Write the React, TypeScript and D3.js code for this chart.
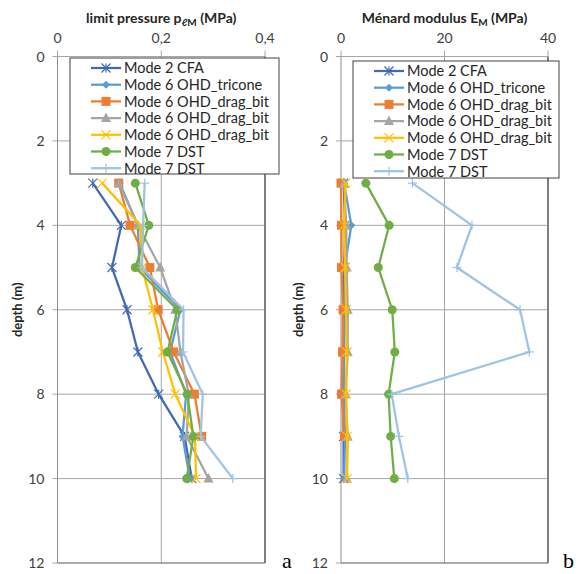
import React from "react";
import * as d3 from "d3";

const depths = [3, 4, 5, 6, 7, 8, 9, 10];
const seriesNames = [
  "Mode 2 CFA",
  "Mode 6 OHD_tricone",
  "Mode 6 OHD_drag_bit",
  "Mode 6 OHD_drag_bit",
  "Mode 6 OHD_drag_bit",
  "Mode 7 DST",
  "Mode 7 DST",
];
const seriesColors = ["#4169B8", "#5B9BD5", "#ED7D31", "#A5A5A5", "#FFC000", "#70AD47", "#9DC3E6"];
const seriesMarkers = ["star", "diamond", "square", "triangle", "x", "circle", "plus"];

// limit pressure (MPa)
const pCFA = [0.068, 0.123, 0.105, 0.134, 0.155, 0.195, 0.245, 0.259];
const pTricone = [0.12, 0.155, 0.158, 0.237, 0.217, 0.248, 0.241, 0.255];
const pDrag1 = [0.118, 0.14, 0.178, 0.194, 0.224, 0.264, 0.278];
const pDrag2 = [0.118, 0.155, 0.198, 0.227, 0.237, 0.253, 0.249, 0.291];
const pDrag3 = [0.086, 0.16, 0.163, 0.184, 0.203, 0.227, 0.265, 0.267];
const pDST1 = [0.15, 0.176, 0.15, 0.231, 0.212, 0.25, 0.262, 0.249];
const pDST2 = [0.168, 0.165, 0.163, 0.243, 0.242, 0.28, 0.276, 0.338];

// Ménard modulus (MPa)
const eCFA = [0.5, 0.8, 0.6, 0.6, 0.5, 0.4, 0.5, 0.5];
const eTricone = [0.6, 2.0, 0.7, 0.8, 0.6, 0.5, 0.8, 0.6];
const eDrag1 = [0.0, 0.1, 0.1, 0.4, 0.3, 0.1, 0.7];
const eDrag2 = [0.6, 1.0, 1.1, 1.3, 1.3, 0.9, 1.3, 1.1];
const eDrag3 = [0.9, 0.6, 0.8, 1.0, 1.1, 1.0, 1.2, 1.2];
const eDST1 = [4.8, 9.3, 7.2, 9.9, 10.4, 9.2, 9.6, 10.3];
const eDST2 = [13.8, 25.3, 22.4, 34.6, 36.4, 9.8, 11.2, 12.9];

const depthTicks = [0, 2, 4, 6, 8, 10, 12];
const pTicks = [0, 0.2, 0.4];
const eTicks = [0, 20, 40];

const FONT = "Lato, 'Open Sans', sans-serif";

function Marker({ type, x, y, color }: { type: string; x: number; y: number; color: string }) {
  const s = 4.5;
  switch (type) {
    case "star":
      return (
        <g stroke={color} strokeWidth={1.2}>
          <line x1={x - s} y1={y - s} x2={x + s} y2={y + s} />
          <line x1={x - s} y1={y + s} x2={x + s} y2={y - s} />
          <line x1={x} y1={y - s} x2={x} y2={y + s} />
        </g>
      );
    case "diamond":
      return <path d={`M${x},${y - 4}L${x + 4},${y}L${x},${y + 4}L${x - 4},${y}Z`} fill={color} />;
    case "square":
      return <rect x={x - 4.5} y={y - 4.5} width={9} height={9} fill={color} />;
    case "triangle":
      return <path d={`M${x},${y - 5.5}L${x + 5},${y + 4}L${x - 5},${y + 4}Z`} fill={color} />;
    case "x":
      return (
        <g stroke={color} strokeWidth={1.2}>
          <line x1={x - s} y1={y - s} x2={x + s} y2={y + s} />
          <line x1={x - s} y1={y + s} x2={x + s} y2={y - s} />
        </g>
      );
    case "circle":
      return <circle cx={x} cy={y} r={4.5} fill={color} />;
    case "plus":
      return (
        <g stroke={color} strokeWidth={1.2}>
          <line x1={x - s} y1={y} x2={x + s} y2={y} />
          <line x1={x} y1={y - s} x2={x} y2={y + s} />
        </g>
      );
  }
  return null;
}

type PanelProps = {
  left: number;
  right: number;
  xMax: number;
  xTicks: number[];
  fmt: (v: number) => string;
  title: React.ReactNode;
  series: number[][];
  legend: { x: number; y: number; w: number; h: number };
  letter: string;
  letterX: number;
  ylabelX: number;
};

function Panel(p: PanelProps) {
  const top = 56.5;
  const bottom = 563;
  const x = d3.scaleLinear().domain([0, p.xMax]).range([p.left, p.right]);
  const y = d3.scaleLinear().domain([0, 12]).range([top, bottom]);
  const line = d3
    .line<[number, number]>()
    .x((d) => x(d[0]))
    .y((d) => y(d[1]));
  const mid = (p.left + p.right) / 2;
  const rowH = 16.7;
  return (
    <g>
      {depthTicks.slice(1, -1).map((t) => (
        <line key={"h" + t} x1={p.left} x2={p.right} y1={y(t)} y2={y(t)} stroke="#A6A6A6" strokeWidth={1} />
      ))}
      {p.xTicks.slice(1).map((t) => (
        <line key={"v" + t} x1={x(t)} x2={x(t)} y1={top} y2={bottom} stroke="#A6A6A6" strokeWidth={1} />
      ))}
      <line x1={p.left} x2={p.left} y1={top} y2={bottom} stroke="#8C8C8C" strokeWidth={1} />
      <line x1={p.left} x2={p.right} y1={bottom} y2={bottom} stroke="#595959" strokeWidth={1} />
      <line x1={p.right} x2={p.right} y1={top} y2={bottom} stroke="#7F7F7F" strokeWidth={2} />
      <line x1={p.left} x2={p.right} y1={top} y2={top} stroke="#A6A6A6" strokeWidth={1} />
      {p.xTicks.map((t) => (
        <line key={"tt" + t} x1={x(t)} x2={x(t)} y1={top - 6} y2={top} stroke="#A6A6A6" />
      ))}
      {p.xTicks.map((t) => (
        <text key={"tl" + t} x={x(t)} y={43} textAnchor="middle" fontSize={14} fill="#404040" fontFamily={FONT}>
          {p.fmt(t)}
        </text>
      ))}
      {depthTicks.map((t) => (
        <line key={"lt" + t} x1={p.left - 5} x2={p.left} y1={y(t)} y2={y(t)} stroke="#A6A6A6" />
      ))}
      {depthTicks.map((t) => (
        <text key={"ll" + t} x={p.left - 13} y={y(t) + 5} textAnchor="end" fontSize={14} fill="#404040" fontFamily={FONT}>
          {t}
        </text>
      ))}
      <text
        transform={`translate(${p.ylabelX},${(top + bottom) / 2}) rotate(-90)`}
        textAnchor="middle"
        fontSize={13}
        fontWeight="bold"
        fill="#262626"
        fontFamily={FONT}
      >
        depth (m)
      </text>
      <text x={mid} y={23} textAnchor="middle" fontSize={14} fontWeight="bold" fill="#262626" fontFamily={FONT}>
        {p.title}
      </text>
      {p.series.map((vals, i) => {
        const pts = vals.map((v, j) => [v, depths[j]] as [number, number]);
        return (
          <g key={"s" + i}>
            <path d={line(pts) || ""} fill="none" stroke={seriesColors[i]} strokeWidth={2.25} strokeLinejoin="round" />
            {pts.map((d, j) => (
              <Marker key={j} type={seriesMarkers[i]} x={x(d[0])} y={y(d[1])} color={seriesColors[i]} />
            ))}
          </g>
        );
      })}
      <rect x={p.legend.x} y={p.legend.y} width={p.legend.w} height={p.legend.h} fill="white" stroke="#404040" strokeWidth={1} />
      {seriesNames.map((n, i) => {
        const cy = p.legend.y + 10 + i * rowH;
        const lx = p.legend.x + 21;
        return (
          <g key={"lg" + i}>
            <line x1={lx} x2={lx + 30} y1={cy} y2={cy} stroke={seriesColors[i]} strokeWidth={2.25} />
            <Marker type={seriesMarkers[i]} x={lx + 15} y={cy} color={seriesColors[i]} />
            <text x={lx + 33} y={cy + 5.3} fontSize={14.5} fill="#262626" fontFamily={FONT}>
              {n}
            </text>
          </g>
        );
      })}
      <text x={p.letterX} y={568} fontSize={22} fontFamily="'Liberation Serif', 'DejaVu Serif', serif" fill="#000">
        {p.letter}
      </text>
    </g>
  );
}

export default function App() {
  const fmtP = (v: number) => (v === 0 ? "0" : v.toFixed(1).replace(".", ","));
  const fmtE = (v: number) => String(v);
  return (
    <svg width={581} height={574} style={{ position: "absolute", left: 0, top: 0, background: "white" }}>
      <rect x={0} y={0} width={581} height={574} fill="white" />
      <Panel
        left={57.5}
        right={265}
        xMax={0.4}
        xTicks={pTicks}
        fmt={fmtP}
        title={
          <>
            limit pressure p
            <tspan fontSize={10} dy={3}>ℓM</tspan>
            <tspan dy={-3}> (MPa)</tspan>
          </>
        }
        series={[pCFA, pTricone, pDrag1, pDrag2, pDrag3, pDST1, pDST2]}
        legend={{ x: 70, y: 58, w: 209, h: 116 }}
        letter="a"
        letterX={282}
        ylabelX={22}
      />
      <Panel
        left={341}
        right={548}
        xMax={40}
        xTicks={eTicks}
        fmt={fmtE}
        title={
          <>
            Ménard modulus E
            <tspan fontSize={10} dy={3}>M</tspan>
            <tspan dy={-3}> (MPa)</tspan>
          </>
        }
        series={[eCFA, eTricone, eDrag1, eDrag2, eDrag3, eDST1, eDST2]}
        legend={{ x: 353, y: 61, w: 206, h: 117 }}
        letter="b"
        letterX={563}
        ylabelX={303}
      />
    </svg>
  );
}
